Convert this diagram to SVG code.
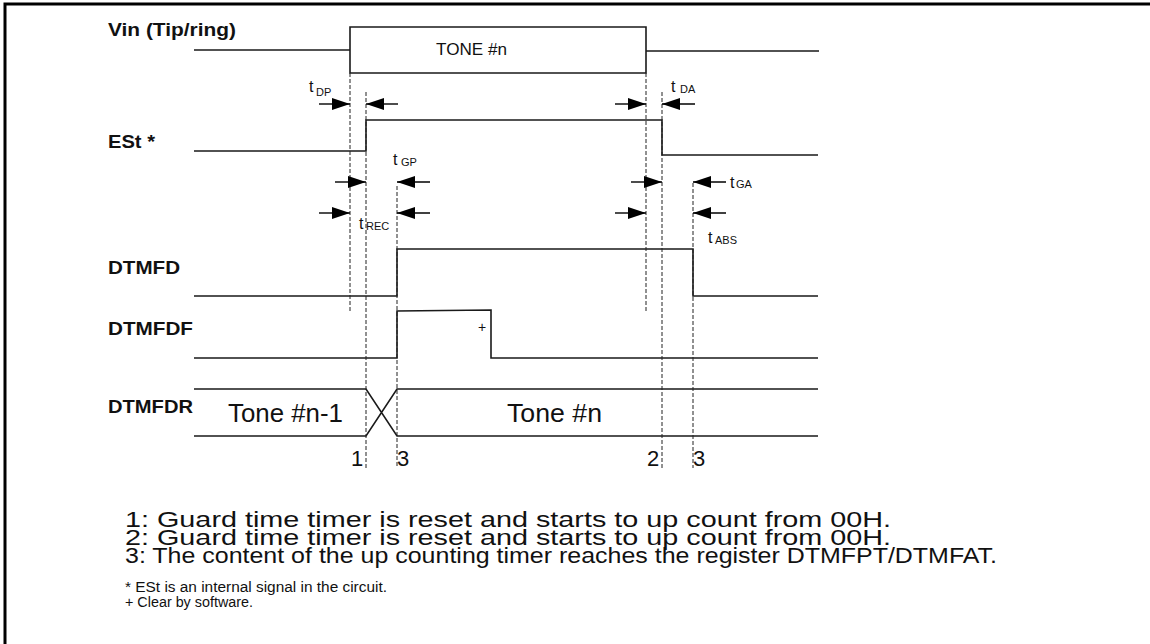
<svg xmlns="http://www.w3.org/2000/svg" width="1150" height="644" viewBox="0 0 1150 644">
<defs>
<style>
.sig{fill:none;stroke:#1a1a1a;stroke-width:1.6}
.dash{fill:none;stroke:#222;stroke-width:1;stroke-dasharray:4,2}
.arr{fill:none;stroke:#000;stroke-width:1.4;marker-end:url(#ah)}
.lbl{font-family:"Liberation Sans",Arial,sans-serif;font-weight:bold;font-size:18px;fill:#111}
.t{font-family:"Liberation Sans",Arial,sans-serif;font-size:16px;fill:#111}
.sub{font-family:"Liberation Sans",Arial,sans-serif;font-size:11px;fill:#111}
.big{font-family:"Liberation Sans",Arial,sans-serif;font-size:25px;fill:#111}
.num{font-family:"Liberation Sans",Arial,sans-serif;font-size:22px;fill:#111}
.note{font-family:"Liberation Sans",Arial,sans-serif;font-size:22px;fill:#111}
.foot{font-family:"Liberation Sans",Arial,sans-serif;font-size:14px;fill:#111}
</style>
<marker id="ah" markerUnits="userSpaceOnUse" markerWidth="18" markerHeight="12" viewBox="0 0 18 12" refX="18" refY="6" orient="auto"><path d="M0,0 L18,6 L0,12 Z" fill="#000"/></marker>
</defs>
<rect width="1150" height="644" fill="#fff"/>
<path d="M5,644 V4 H1150" fill="none" stroke="#000" stroke-width="3"/>

<g id="vin">
<text class="lbl" x="108" y="36" textLength="128" lengthAdjust="spacingAndGlyphs">Vin (Tip/ring)</text>
<path class="sig" d="M194,50 H350 M350,27 H646 V73 H350 Z M646,51 H819"/>
<text class="t" x="436" y="55" font-size="17" textLength="71" lengthAdjust="spacingAndGlyphs">TONE #n</text>
</g>

<g id="est">
<text class="lbl" x="108" y="148" textLength="47" lengthAdjust="spacingAndGlyphs">ESt *</text>
<path class="sig" d="M194,151 H366 V120 H662 V155 H818"/>
</g>

<g id="dtmfd">
<text class="lbl" x="108" y="274" textLength="72" lengthAdjust="spacingAndGlyphs">DTMFD</text>
<path class="sig" d="M194,296 H397 V249 H693 V296 H818"/>
</g>

<g id="dtmfdf">
<text class="lbl" x="108" y="335" textLength="85" lengthAdjust="spacingAndGlyphs">DTMFDF</text>
<path class="sig" d="M194,358 H397 V311 L491,310 V358 H818"/>
<text class="foot" x="478" y="332" font-size="12">+</text>
</g>

<g id="dtmfdr">
<text class="lbl" x="108" y="413" textLength="85" lengthAdjust="spacingAndGlyphs">DTMFDR</text>
<path class="sig" d="M194,389 H366 L397,436 H818 M194,436 H366 L397,389 H818"/>
<text class="big" x="228" y="422" textLength="115" lengthAdjust="spacingAndGlyphs">Tone #n-1</text>
<text class="big" x="507" y="422" textLength="95" lengthAdjust="spacingAndGlyphs">Tone #n</text>
</g>

<g id="guides">
<path class="dash" d="M350,73 V312 M366,92 V468 M397,186 V468 M646,73 V311 M662,92 V468 M693,183 V468"/>
</g>

<g id="connectors">
<path class="arr" d="M319,104 H350"/>
<path class="arr" d="M398,104 H366"/>
<path class="arr" d="M615,104 H646"/>
<path class="arr" d="M695,104 H662"/>
<path class="arr" d="M335,182 H366"/>
<path class="arr" d="M430,182 H397"/>
<path class="arr" d="M631,182 H662"/>
<path class="arr" d="M726,182 H693"/>
<path class="arr" d="M319,213 H350"/>
<path class="arr" d="M430,213 H397"/>
<path class="arr" d="M615,213 H646"/>
<path class="arr" d="M726,213 H693"/>
</g>

<g id="timing-labels">
<text class="t" x="309" y="92">t<tspan class="sub" x="316" y="96">DP</tspan></text>
<text class="t" x="671" y="92">t<tspan class="sub" x="680" y="93">DA</tspan></text>
<text class="t" x="393" y="165">t<tspan class="sub" x="401" y="166">GP</tspan></text>
<text class="t" x="730" y="188">t<tspan class="sub" x="736" y="188">GA</tspan></text>
<text class="t" x="359" y="229">t<tspan class="sub" x="366" y="230">REC</tspan></text>
<text class="t" x="708" y="243">t<tspan class="sub" x="715" y="244">ABS</tspan></text>
</g>

<g id="markers">
<text class="num" x="351" y="466">1</text>
<text class="num" x="397" y="466">3</text>
<text class="num" x="647" y="466">2</text>
<text class="num" x="693" y="466">3</text>
</g>

<g id="notes">
<text class="note" x="125" y="527" textLength="766" lengthAdjust="spacingAndGlyphs">1: Guard time timer is reset and starts to up count from 00H.</text>
<text class="note" x="125" y="545" textLength="766" lengthAdjust="spacingAndGlyphs">2: Guard time timer is reset and starts to up count from 00H.</text>
<text class="note" x="125" y="563" textLength="872" lengthAdjust="spacingAndGlyphs">3: The content of the up counting timer reaches the register DTMFPT/DTMFAT.</text>
<text class="foot" x="125" y="592" textLength="262" lengthAdjust="spacingAndGlyphs">* ESt is an internal signal in the circuit.</text>
<text class="foot" x="125" y="607" textLength="128" lengthAdjust="spacingAndGlyphs">+ Clear by software.</text>
</g>
</svg>
